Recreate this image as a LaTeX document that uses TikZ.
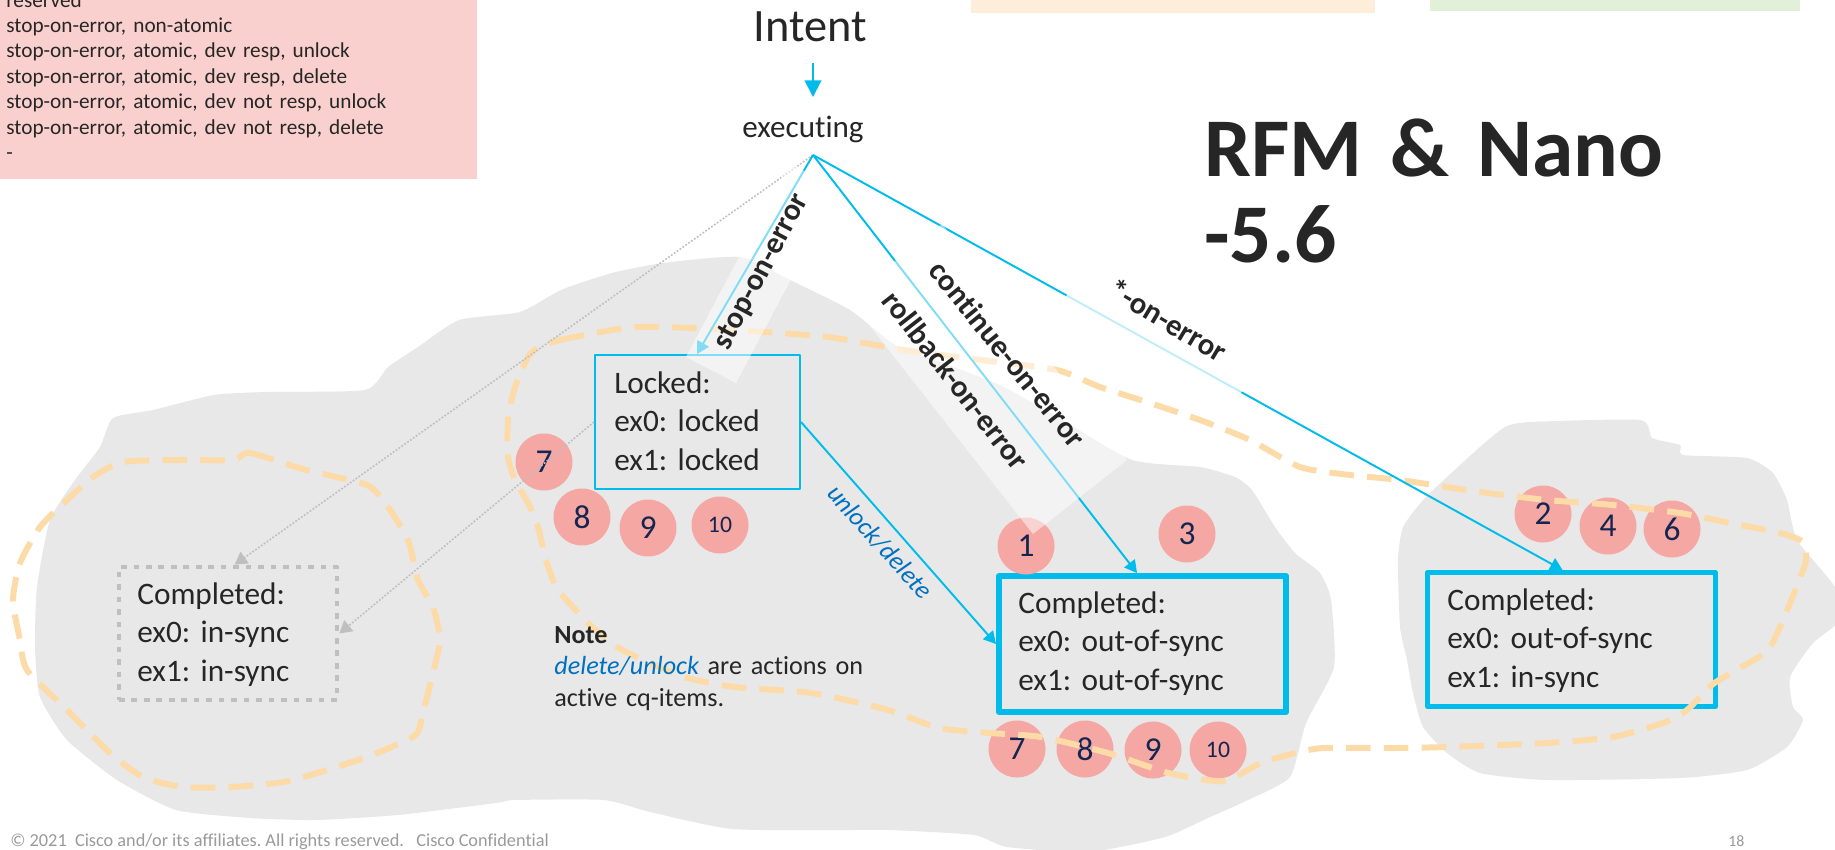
\documentclass[tikz,border=0pt]{standalone}
\usepackage{fontspec}
\setmainfont{Carlito}[Ligatures=NoCommon]
\frenchspacing
\usetikzlibrary{arrows.meta}
\definecolor{cyanb}{HTML}{00BCEB}
\definecolor{cloudc}{HTML}{E8E8E8}
\definecolor{pinkbg}{HTML}{F9D0CE}
\definecolor{peachbg}{HTML}{FDEEDA}
\definecolor{greenbg}{HTML}{E2F0D9}
\definecolor{salmon}{HTML}{F4A7A3}
\definecolor{navy}{HTML}{14254F}
\definecolor{txt}{HTML}{262626}
\definecolor{dashc}{HTML}{FDDBA8}
\definecolor{dotgray}{HTML}{BFBFBF}
\definecolor{linkblue}{HTML}{0070C0}
\definecolor{footgray}{HTML}{9A9A9A}
\def\pxu{0.02cm}
\tikzset{
  boxtxt/.style={anchor=base west, inner sep=0pt, text width=8cm, align=left,
    font=\fontsize{17.8}{22.1}\selectfont, text=txt},
  num/.style={circle, fill=salmon, minimum size=57*\pxu, inner sep=0pt, text=navy,
    font=\fontsize{19}{19}\selectfont},
  numsm/.style={num, font=\fontsize{13.5}{13.5}\selectfont},
  conn/.style={draw=cyanb, line width=1.1pt, -{Triangle[width=7.5pt,length=7pt]}},
  dotconn/.style={draw=dotgray, line width=0.9pt, dash pattern=on 1pt off 1pt,
    -{Triangle[width=8pt,length=7pt]}},
  dashloop/.style={draw=dashc, line width=3.4pt, dash pattern=on 14pt off 7.5pt},
  lbl/.style={font=\bfseries\fontsize{17.5}{17.5}\selectfont, text=txt, inner sep=0pt},
  veil/.style={fill=white, fill opacity=0.5, draw=none},
  statebox/.style={inner sep=0pt, line join=round},
}
\begin{document}
\begin{tikzpicture}[x=0.02cm, y=-0.02cm]
\useasboundingbox (0,0) rectangle (1835,849);
\fill[white] (0,0) rectangle (1835,849);

% top colour bars
\fill[pinkbg] (0,0) rectangle (477,179);
\fill[peachbg] (971,0) rectangle (1375,13);
\fill[greenbg] (1430,0) rectangle (1800,11);
\node[anchor=base west, inner sep=0pt, text width=9cm, align=left, text=txt,
  font=\fontsize{12.1}{14.5}\selectfont] (legend) at (6,7)
  {reserved\\
   stop-on-error, non-atomic\\
   stop-on-error, atomic, dev resp, unlock\\
   stop-on-error, atomic, dev resp, delete\\
   stop-on-error, atomic, dev not resp, unlock\\
   stop-on-error, atomic, dev not resp, delete\\
   -};

% clouds
\fill[cloudc] plot[smooth cycle, tension=0.35] coordinates {
 (113,418) (153,410) (214,395) (265,392) (365,390) (388,367) (418,347) (459,320)
 (520,312) (561,290) (612,273) (663,263) (740,257) (790,280) (850,310) (895,345)
 (940,362) (1000,385) (1057,417) (1132,460) (1200,467) (1235,477) (1252,490)
 (1275,527) (1295,553) (1320,573) (1331,600) (1334,667) (1306,723) (1290,777)
 (1248,800) (1210,817) (1165,837) (1089,852) (1007,847) (974,835) (890,830)
 (846,830) (732,829) (650,812) (604,800) (515,800) (496,803) (398,815) (316,820)
 (250,818) (176,810) (117,780) (67,740) (40,697) (35,647) (37,587) (50,520)
 (75,480) (100,447)};
\fill[cloudc] plot[smooth cycle, tension=0.35] coordinates {
 (1505,427) (1530,422) (1640,420) (1652,438) (1680,445) (1683,455) (1747,458)
 (1773,473) (1787,500) (1797,540) (1835,587) (1840,620) (1813,643) (1790,677)
 (1793,707) (1803,720) (1787,747) (1747,770) (1680,778) (1547,780) (1480,773)
 (1447,753) (1423,727) (1413,693) (1407,660) (1400,627) (1398,560) (1403,527)
 (1423,500) (1447,477) (1480,447)};

% title texts
\node[anchor=base, inner sep=0pt, text=txt, font=\fontsize{26.4}{26.4}\selectfont]
  (intent) at (810,41) {Intent};
\node[anchor=base, inner sep=0pt, text=txt, font=\fontsize{17.7}{17.7}\selectfont]
  (exec) at (803,137) {executing};
\coordinate (ia) at (813,63);
\coordinate (ib) at (813,97);
\coordinate (fan) at (813,155);
\node[anchor=base west, inner sep=0pt, text width=12cm, align=left, text=txt,
  font=\bfseries\fontsize{47.5}{49.5}\selectfont] (title) at (1204,176)
  {RFM \& Nano\\-5.6};

% state boxes
\node[statebox, draw=cyanb, line width=1.14pt, minimum width=205*\pxu,
  minimum height=134*\pxu] (lock) at (697.5,422) {};
\node[statebox, draw=dotgray, line width=2.7pt, dash pattern=on 3.2pt off 3.9pt,
  minimum width=218*\pxu, minimum height=133*\pxu] (lbox) at (228,633.5) {};
\node[statebox, draw=cyanb, line width=3.4pt, minimum width=287*\pxu,
  minimum height=136*\pxu] (mbox) at (1142.5,644) {};
\node[statebox, draw=cyanb, line width=2.85pt, minimum width=288*\pxu,
  minimum height=134*\pxu] (rbox) at (1571.5,639.5) {};

% numbered items
\node[num] (c7a) at (544,462) {7};
\node[num] (c8a) at (582,517) {8};
\node[num] (c9a) at (648,528) {9};
\node[numsm] (c10a) at (720,525) {10};
\node[num] (c1) at (1026,546) {1};
\node[num] (c3) at (1187,534) {3};
\node[num] (c7b) at (1017,749) {7};
\node[num] (c8b) at (1085,749) {8};
\node[num] (c9b) at (1153,750) {9};
\node[numsm] (c10b) at (1218,750) {10};
\node[num] (c2) at (1543,514) {2};
\node[num] (c4) at (1608,526) {4};
\node[num] (c6) at (1672,529) {6};

% dashed groupings
\draw[dashloop] plot[smooth cycle, tension=0.4] coordinates {
 (233,460) (250,453) (306,470) (367,485) (388,507) (408,540) (418,580) (433,607)
 (440,640) (433,673) (423,713) (418,732) (407,740) (367,757) (317,773) (283,782)
 (233,787) (183,787) (143,777) (110,753) (67,710) (27,670) (20,640) (13,600)
 (20,563) (40,527) (67,500) (93,477) (123,462) (180,460)};
\draw[dashloop] plot[smooth cycle, tension=0.4] coordinates {
 (531,353) (560,340) (637,327) (732,330) (828,337) (904,350) (981,360) (1057,370)
 (1100,387) (1150,403) (1200,420) (1250,440) (1300,467) (1350,475) (1400,480)
 (1480,492) (1547,500) (1613,505) (1680,513) (1730,523) (1780,533) (1803,542)
 (1806,560) (1800,578) (1793,596) (1780,627) (1768,650) (1747,664) (1713,684)
 (1687,710) (1663,723) (1613,737) (1547,743) (1447,747) (1395,748) (1325,748)
 (1299,752) (1261,763) (1223,781) (1169,773) (1108,753) (1041,737) (990,733)
 (939,728) (888,710) (812,693) (735,687) (684,677) (628,653) (608,640) (590,625)
 (571,605) (556,587) (546,560) (538,527) (528,503) (515,480) (508,457) (508,420)
 (515,387)};

% connectors
\draw[conn, -{Triangle[width=9.5pt,length=9.5pt]}] (ia) -- (ib);
\draw[dotconn] (fan) -- ([xshift=118*\pxu]lbox.north west);
\draw[dotconn] (lock.west) -- (lbox.east);
\draw[conn] (fan) -- ([xshift=103*\pxu]lock.north west);
\draw[conn] (fan) -- ([xshift=141*\pxu]mbox.north west);
\draw[conn] (fan) -- ([xshift=137.5*\pxu]rbox.north west);
\draw[conn] (lock.east) -- (mbox.west);

% translucent label backgrounds
\fill[veil] (686,357) -- (736,383) -- (839,189) -- (789,163) -- cycle;
\fill[veil] (942,224) -- (1127,460) -- (1033,534) -- (848,298) -- cycle;
\fill[veil, fill opacity=0.75] (1094,250) -- (1265,353) -- (1236,401) -- (1065,298) -- cycle;

% connector labels
\node[lbl, rotate=62] (lstop) at (762,272) {stop-on-error};
\node[lbl, rotate=-52] (lroll) at (956,380) {rollback-on-error};
\node[lbl, rotate=-51] (lcont) at (1008,354) {continue-on-error};
\node[lbl, rotate=-31] (lstar) at (1168,320) {*-on-error};
\node[inner sep=0pt, rotate=-48, text=linkblue,
  font=\itshape\fontsize{14.7}{14.7}\selectfont] (lunl) at (880,542) {unlock/delete};

% box texts
\node[boxtxt] (locktxt) at (614,393) {Locked:\\ex0: locked\\ex1: locked};
\node[boxtxt] (lboxtxt) at (137,604) {Completed:\\ex0: in-sync\\ex1: in-sync};
\node[boxtxt] (mboxtxt) at (1018,613) {Completed:\\ex0: out-of-sync\\ex1: out-of-sync};
\node[boxtxt] (rboxtxt) at (1447,610) {Completed:\\ex0: out-of-sync\\ex1: in-sync};

% note
\node[anchor=base west, inner sep=0pt, text width=8cm, align=left, text=txt,
  font=\fontsize{14.9}{18.1}\selectfont] (note) at (554,643)
  {\textbf{Note}\\
   \textcolor{linkblue}{\itshape delete/unlock} are actions on\\
   active cq-items.};

% footer
\node[anchor=base west, inner sep=0pt, text=footgray,
  font=\fontsize{10.4}{10.4}\selectfont] (foot) at (10,846)
  {\textcopyright{} 2021~~Cisco and/or its affiliates. All rights reserved.~~~Cisco Confidential};
\node[anchor=base west, inner sep=0pt, text=footgray,
  font=\fontsize{9}{9}\selectfont] (pagenum) at (1728,846) {18};
\end{tikzpicture}
\end{document}
